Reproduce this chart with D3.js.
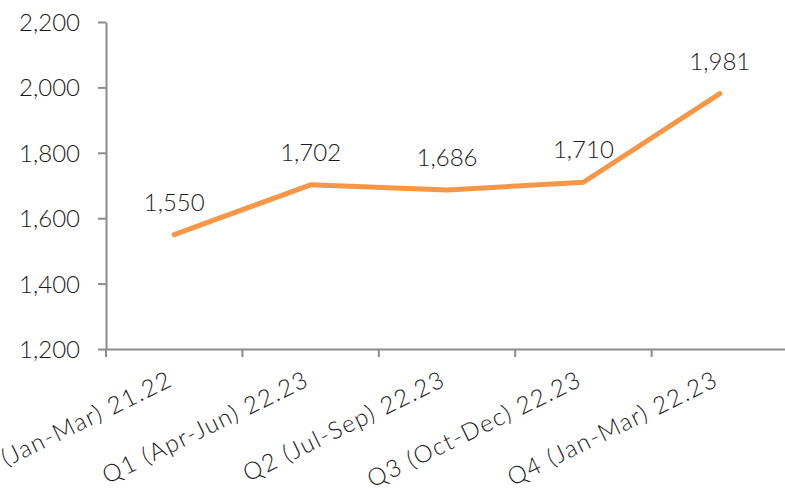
<!DOCTYPE html>
<html>
<head>
<meta charset="utf-8">
<script src="https://cdn.jsdelivr.net/npm/d3@7"></script>
<style>
  body { margin: 0; background: #fff; }
  text { font-family: "Century Gothic", "Lato", "DejaVu Sans", sans-serif; font-weight: 300; fill: #1a1a1a; }
</style>
</head>
<body>
<div id="chart"></div>
<script>
const quarters = ['Q4 (Jan-Mar) 21.22', 'Q1 (Apr-Jun) 22.23', 'Q2 (Jul-Sep) 22.23', 'Q3 (Oct-Dec) 22.23', 'Q4 (Jan-Mar) 22.23'];
const values = [1550, 1702, 1686, 1710, 1981];
const yTicks = [1200, 1400, 1600, 1800, 2000, 2200];

const width = 785, height = 492;
const margin = { top: 22, right: -3, bottom: 143, left: 106 };

const svg = d3.select('#chart').append('svg')
  .attr('width', width)
  .attr('height', height);

const x = d3.scaleBand()
  .domain(quarters)
  .range([margin.left, width - margin.right]);

const y = d3.scaleLinear()
  .domain([1200, 2200])
  .range([height - margin.bottom, margin.top]);

const fmt = d3.format(',');

// y axis
const yAxis = svg.append('g')
  .attr('transform', `translate(${margin.left},0)`)
  .call(d3.axisLeft(y).tickValues(yTicks).tickFormat(fmt).tickSize(8).tickSizeOuter(0).tickPadding(18));
yAxis.select('.domain').attr('stroke', '#8c8c8c').attr('stroke-width', 2);
yAxis.selectAll('.tick line').attr('stroke', '#8c8c8c').attr('stroke-width', 2);
yAxis.selectAll('.tick text').style('font-size', '24px').attr('fill', '#1a1a1a').attr('dy', '0.35em');

// x axis
const xAxis = svg.append('g')
  .attr('transform', `translate(0,${y(1200)})`)
  .call(d3.axisBottom(x).tickSize(0).tickSizeOuter(0).tickFormat(''));
xAxis.select('.domain').attr('stroke', '#8c8c8c').attr('stroke-width', 2);
xAxis.selectAll('.tick').remove();

// x tick marks at band boundaries
svg.append('g')
  .selectAll('line')
  .data(quarters)
  .join('line')
    .attr('x1', d => x(d))
    .attr('x2', d => x(d))
    .attr('y1', y(1200))
    .attr('y2', y(1200) + 8)
    .attr('stroke', '#8c8c8c')
    .attr('stroke-width', 2);

// rotated category labels
svg.append('g')
  .selectAll('text')
  .data(quarters)
  .join('text')
    .attr('transform', d => `translate(${x(d) + x.bandwidth() / 2},${y(1200) + 36}) rotate(-26)`)
    .attr('text-anchor', 'end')
    .style('font-size', '24px')
    .style('letter-spacing', '1.5px')
    .text(d => d);

// line
const line = d3.line()
  .x((d, i) => x(quarters[i]) + x.bandwidth() / 2)
  .y(d => y(d));

svg.append('path')
  .datum(values)
  .attr('fill', 'none')
  .attr('stroke', '#f79646')
  .attr('stroke-width', 5)
  .attr('stroke-linecap', 'round')
  .attr('stroke-linejoin', 'round')
  .attr('d', line);

// data labels
svg.append('g')
  .selectAll('text')
  .data(values)
  .join('text')
    .attr('x', (d, i) => x(quarters[i]) + x.bandwidth() / 2)
    .attr('y', d => y(d) - 24)
    .attr('text-anchor', 'middle')
    .style('font-size', '24px')
    .text(d => fmt(d));
</script>
</body>
</html>
